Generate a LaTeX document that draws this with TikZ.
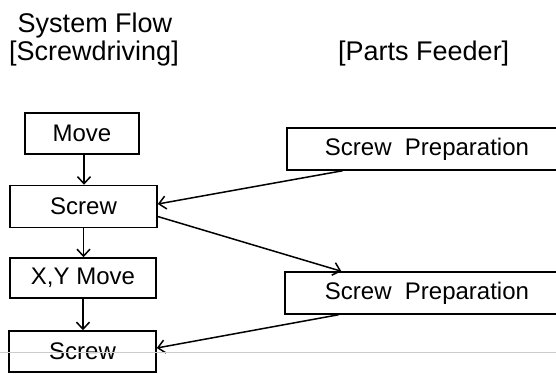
\documentclass[tikz,border=0pt]{standalone}
\usepackage{fontspec}
\setmainfont{Liberation Sans}
\usetikzlibrary{arrows.meta,calc}

\begin{document}
\begin{tikzpicture}[x=1pt,y=-1pt,
  stepbox/.style={draw,line width=1.5pt,inner sep=0pt,
    font=\fontsize{24}{28}\selectfont},
  title/.style={anchor=base,inner sep=0pt,font=\fontsize{27}{31}\selectfont},
  flow/.style={line width=1.5pt,-{Straight Barb[length=7pt,width=13pt,line width=1.5pt]}}]

\useasboundingbox (0,0) rectangle (556,373);
\clip (0,0) rectangle (556,373);

% headings
\node[title] (sysflow) at (95,32) {System Flow};
\node[title] (screwing) at (94,60) {[Screwdriving]};
\node[title,anchor=base west] (feeder) at (338,60) {[Parts Feeder]};

% screwdriving side
\node[stepbox,minimum width=114pt,minimum height=41pt] (move) at (82,133.5) {Move};
\node[stepbox,minimum width=147pt,minimum height=42pt] (screwA) at (83.5,206.5) {Screw};
\node[stepbox,minimum width=146pt,minimum height=40pt] (xymove) at (83,278) {X,Y Move};
\node[stepbox,minimum width=147pt,minimum height=41pt] (screwB) at (82.5,351.5) {Screw};

% parts feeder side
\node[stepbox,minimum width=280pt,minimum height=42pt] (prepA) at (427,149) {Screw\ \ Preparation};
\node[stepbox,minimum width=284pt,minimum height=42pt] (prepB) at (427,293) {Screw\ \ Preparation};

\draw[flow] ([xshift=2pt]move.south) -- ([xshift=2pt]move.south |- screwA.north);
\draw[flow] (screwA.south) -- (screwA.south |- xymove.north);
\draw[flow] (xymove.south) -- (xymove.south |- screwB.north);

\draw[flow] ($(prepA.south west)!0.2!(prepA.south east)$) -- ([yshift=2.5pt]screwA.east);
\draw[flow] ([yshift=-10pt]screwA.east) -- ($(prepB.north west)!0.2!(prepB.north east)$);
\draw[flow] ($(prepB.south west)!0.19!(prepB.south east)$) -- ([yshift=3.5pt]screwB.east);

\draw[gray!40,line width=0.8pt] (0,352.5) -- (556,352.5);

\end{tikzpicture}
\end{document}
